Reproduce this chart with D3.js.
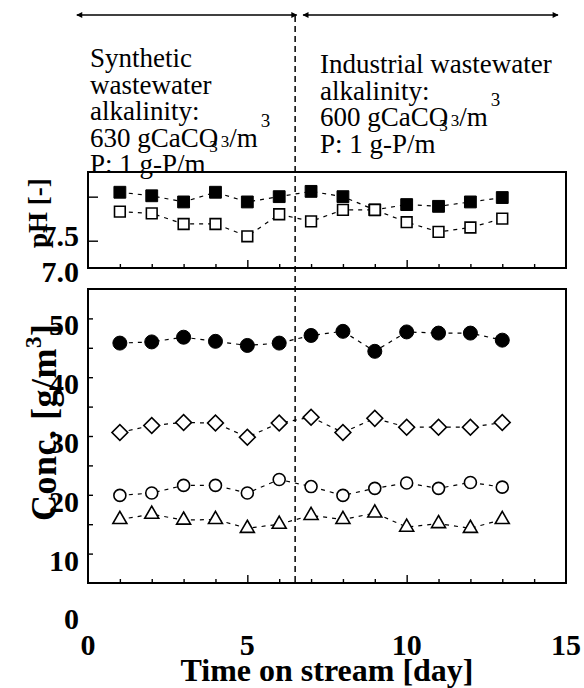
<!DOCTYPE html>
<html><head><meta charset="utf-8">
<script src="https://cdn.jsdelivr.net/npm/d3@7/dist/d3.min.js"></script>
<style>
html,body{margin:0;padding:0;background:#fff;}
svg{display:block;}
text{font-family:"Liberation Serif","Times New Roman",serif;fill:#000;}
</style></head>
<body>
<svg id="chart" width="584" height="688"></svg>
<script>
// ---- data ----
const days = [1,2,3,4,5,6,7,8,9,10,11,12,13];
const phFilled = [8.05,8.01,7.94,8.05,7.94,8.00,8.06,8.00,7.85,7.91,7.89,7.94,7.99];
const phOpen   = [7.83,7.81,7.69,7.69,7.55,7.80,7.72,7.85,7.85,7.71,7.60,7.65,7.75];
const concFilledCircle = [45.8,46.0,46.8,46.1,45.4,45.8,47.1,47.8,44.4,47.7,47.5,47.5,46.3];
const concDiamond      = [30.6,31.8,32.3,32.2,29.8,32.2,33.2,30.6,33.0,31.5,31.5,31.5,32.3];
const concOpenCircle   = [19.9,20.3,21.6,21.6,20.3,22.6,21.4,19.9,21.1,22.0,21.1,22.1,21.3];
const concTriangle     = [15.8,16.7,15.7,15.8,14.3,15.0,16.5,15.8,16.9,14.5,15.1,14.3,15.8];
const xTickLabels = [0,5,10,15];
const concTickLabels = [0,10,20,30,40,50];
const phTickLabels = [7.0,7.5];
const switchDay = 6.5;
const leftNote = ["Synthetic","wastewater","alkalinity:","630 gCaCO","P: 1 g-P/m"];
const rightNote = ["Industrial wastewater","alkalinity:","600 gCaCO","P: 1 g-P/m"];

// ---- scales ----
const svg = d3.select("#chart");
const x = d3.scaleLinear().domain([0,15]).range([88,566]);
const yPH = d3.scaleLinear().domain([7.19,8.28]).range([268,172]);
const yC = d3.scaleLinear().domain([5,55]).range([583,289]);
const phLabelY = d3.scaleLinear().domain([7.0,7.5]).range([282,246]);

// ---- frames ----
function frame(y0,y1){
  svg.append("rect").attr("x",x(0)).attr("y",y1).attr("width",x(15)-x(0)).attr("height",y0-y1)
    .attr("fill","none").attr("stroke","#000").attr("stroke-width",2);
}
frame(yPH(7.19), yPH(8.28));
frame(yC(5), yC(55));

// x ticks (inward) on both panels
function xTicks(yBase){
  const gMaj = svg.append("g").attr("transform",`translate(0,${yBase})`)
    .call(d3.axisBottom(x).tickValues([5,10]).tickSize(-8).tickFormat(""));
  const gMin = svg.append("g").attr("transform",`translate(0,${yBase})`)
    .call(d3.axisBottom(x).tickValues(d3.range(1,15).filter(d=>d%5)).tickSize(-4).tickFormat(""));
  [gMaj,gMin].forEach(g=>{g.select(".domain").remove(); g.selectAll("line").attr("stroke","#000").attr("stroke-width",1.4);});
}
xTicks(yPH(7.19));
xTicks(yC(5));

// y ticks
const gyC = svg.append("g").attr("transform",`translate(${x(0)},0)`)
  .call(d3.axisLeft(yC).tickValues(d3.range(10,55,5)).tickSize(-5).tickFormat(""));
gyC.select(".domain").remove(); gyC.selectAll("line").attr("stroke","#000").attr("stroke-width",1.4);
const gyP = svg.append("g").attr("transform",`translate(${x(0)},0)`)
  .call(d3.axisLeft(yPH).tickValues([7.5,8.0]).tickSize(-10).tickFormat(""));
gyP.select(".domain").remove(); gyP.selectAll("line").attr("stroke","#000").attr("stroke-width",1.4);

// tick labels
svg.append("g").selectAll("text").data(concTickLabels).join("text")
  .attr("x",79).attr("y",d=>yC(d)+17).attr("text-anchor","end")
  .attr("font-size",30).attr("font-weight","bold").text(d=>d);
svg.append("g").selectAll("text").data(phTickLabels).join("text")
  .attr("x",79).attr("y",d=>phLabelY(d)).attr("text-anchor","end")
  .attr("font-size",30).attr("font-weight","bold").text(d=>d.toFixed(1));
svg.append("g").selectAll("text").data(xTickLabels).join("text")
  .attr("x",d=>x(d)).attr("y",655).attr("text-anchor","middle")
  .attr("font-size",30).attr("font-weight","bold").text(d=>d);

// axis titles
svg.append("text").attr("x",x(7.5)).attr("y",681).attr("text-anchor","middle")
  .attr("font-size",32).attr("font-weight","bold").text("Time on stream [day]");
svg.append("text").attr("transform","translate(47,248) rotate(-90)")
  .attr("font-size",27).attr("font-weight","bold").text("pH [-]");
const ct = svg.append("text").attr("transform","translate(56,521) rotate(-90)")
  .attr("font-size",36).attr("font-weight","bold").attr("letter-spacing",0.5);
ct.append("tspan").text("Conc. [g/m");
ct.append("tspan").attr("font-size",23).attr("dy",-15).text("3");
ct.append("tspan").attr("dy",15).text("]");

// dashed switch line
svg.append("line").attr("x1",x(switchDay)).attr("x2",x(switchDay))
  .attr("y1",16).attr("y2",yC(5)).attr("stroke","#000").attr("stroke-width",1.5)
  .attr("stroke-dasharray","6,4");

// arrows
const defs = svg.append("defs");
defs.append("marker").attr("id","ah").attr("viewBox","0 0 10 10").attr("refX",9).attr("refY",5)
  .attr("markerWidth",9).attr("markerHeight",6).attr("markerUnits","userSpaceOnUse").attr("orient","auto-start-reverse")
  .append("path").attr("d","M0,0L10,5L0,10Z").attr("fill","#000");
[[x(-0.35),x(6.55)],[x(6.75),x(14.75)]].forEach(([a,b])=>{
  svg.append("line").attr("x1",a).attr("x2",b).attr("y1",15).attr("y2",15)
    .attr("stroke","#000").attr("stroke-width",1.5)
    .attr("marker-start","url(#ah)").attr("marker-end","url(#ah)");
});

// notes
function note(lines,x0,y0,lh){
  const g = svg.append("g");
  lines.forEach((s,i)=>{
    const t = g.append("text").attr("x",x0).attr("y",y0+i*lh).attr("font-size",27).text(s);
    if(s.indexOf("CaCO")>=0){
      t.append("tspan").attr("font-size",17).attr("dx",-9).attr("dy",5).text("3");
      t.append("tspan").attr("font-size",17).attr("dx",3).attr("dy",-5).text("3");
      t.append("tspan").text("/m");
      t.append("tspan").attr("font-size",19).attr("dx",3).attr("dy",-20).text("3");
    }
  });
}
note(leftNote,90,67,26.5);
note(rightNote,320,73,26.5);

// series
const line = (ys)=>d3.line().x((d,i)=>x(days[i])).y(d=>ys(d));
function dashed(data,ys){
  svg.append("path").attr("d",line(ys)(data)).attr("fill","none").attr("stroke","#000")
    .attr("stroke-width",1.2).attr("stroke-dasharray","4,5");
}
dashed(phFilled,yPH); dashed(phOpen,yPH);
dashed(concFilledCircle,yC); dashed(concDiamond,yC); dashed(concOpenCircle,yC); dashed(concTriangle,yC);

function markers(data,ys,type,size,filled,rot){
  svg.append("g").selectAll("path").data(data).join("path")
    .attr("d",d3.symbol().type(type).size(size)())
    .attr("transform",(d,i)=>`translate(${x(days[i])},${ys(d)}) rotate(${rot||0})`)
    .attr("fill",filled?"#000":"#fff").attr("stroke","#000").attr("stroke-width",filled?1:1.6);
}
markers(phFilled,yPH,d3.symbolSquare,140,true);
markers(phOpen,yPH,d3.symbolSquare,115,false);
markers(concFilledCircle,yC,d3.symbolCircle,Math.PI*49,true);
markers(concDiamond,yC,d3.symbolSquare,125,false,45);
markers(concOpenCircle,yC,d3.symbolCircle,Math.PI*36,false);
markers(concTriangle,yC,d3.symbolTriangle,85,false);
</script>
</body></html>
